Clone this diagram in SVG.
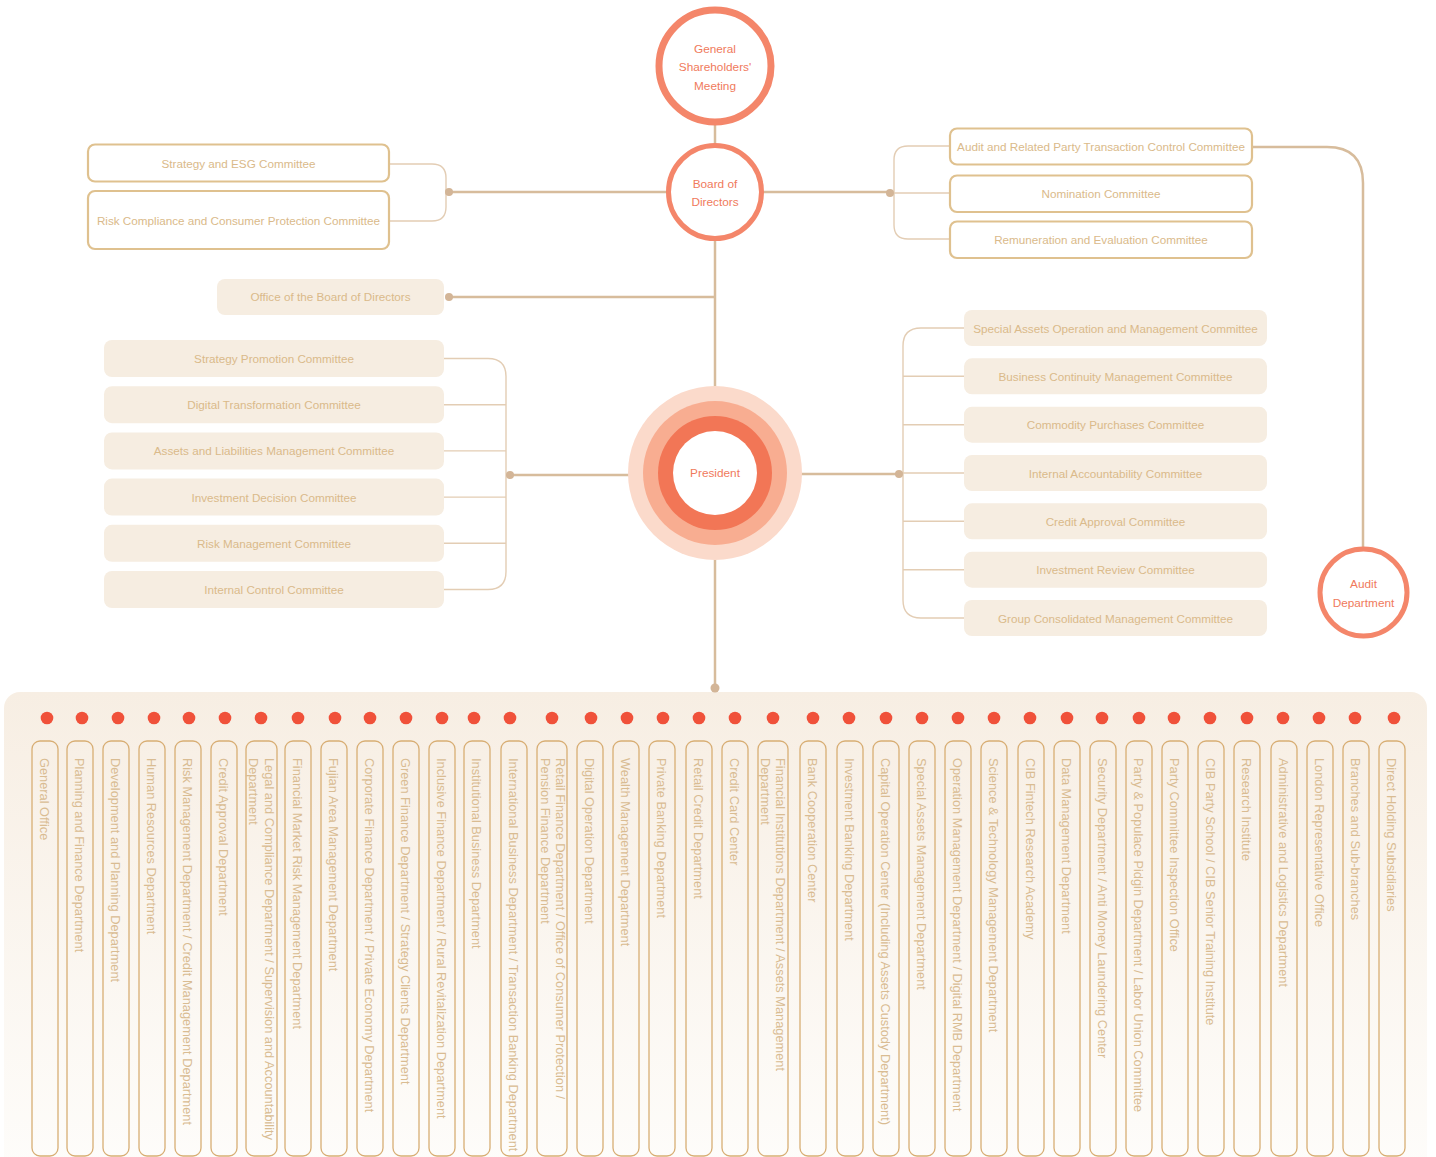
<svg xmlns="http://www.w3.org/2000/svg" width="1436" height="1157" viewBox="0 0 1436 1157">
<defs>
<linearGradient id="panelGrad" x1="0" y1="0" x2="0" y2="1">
<stop offset="0" stop-color="#F7EEE3"/>
<stop offset="1" stop-color="#FEFDFB"/>
</linearGradient>
<style>
.circ{fill:#fff;stroke:#F4866A}
.ctext{font-family:"Liberation Sans",Arial,sans-serif;font-size:11.8px;fill:#F07A5C;text-anchor:middle}
.obox{fill:#fff;stroke:#DFC18F;stroke-width:2.2}
.fbox{fill:#F6EDE1}
.btext{font-family:"Liberation Sans",Arial,sans-serif;font-size:11.7px;fill:#DABA8A;text-anchor:middle}
.main{fill:none;stroke:#D7BC9C;stroke-width:2.5}
.br{fill:none;stroke:#E3CDB4;stroke-width:1.4}
.jdot{fill:#D3B597}
.col{fill:none;stroke:#D8AE74;stroke-width:1.3}
.ctx{font-family:"Liberation Sans",Arial,sans-serif;font-size:12.8px;fill:#D9BC92}
.rdot{fill:#F0513A}
</style>
</defs>

<rect x="4" y="692" width="1423" height="490" rx="16" fill="url(#panelGrad)"/>

<g id="connectors">
<line class="main" x1="715" y1="124" x2="715" y2="145"/>
<line class="main" x1="715" y1="239" x2="715" y2="388"/>
<line class="main" x1="715" y1="558" x2="715" y2="688"/>
<line class="main" x1="449" y1="192" x2="668" y2="192"/>
<line class="main" x1="762" y1="192" x2="890" y2="192"/>
<line class="main" x1="449" y1="297" x2="715" y2="297"/>
<line class="main" x1="510" y1="475" x2="630" y2="475"/>
<line class="main" x1="800" y1="474" x2="899" y2="474"/>
<path class="main" d="M1252,147 H1327 Q1363,147 1363,183 V549" stroke-width="2"/>
<path class="br" d="M389,164 H432 Q446,164 446,178 V207 Q446,221 432,221 H389"/>
<path class="br" d="M950,146 H908 Q894,146 894,160 V225 Q894,239 908,239 H950"/>
<line class="br" x1="890" y1="193" x2="950" y2="193"/>
<path class="br" d="M444,358.5 H488 Q506,358.5 506,376.5 V571.5 Q506,589.5 488,589.5 H444"/>
<path class="br" d="M444,404.7 H506 M444,450.9 H506 M444,497.1 H506 M444,543.3 H506"/>
<path class="br" d="M964,328 H921 Q903,328 903,346 V600 Q903,618 921,618 H964"/>
<path class="br" d="M903,376.3 H964 M903,424.7 H964 M899,473 H964 M903,521.3 H964 M903,569.7 H964"/>
<circle class="jdot" cx="449" cy="192" r="4"/>
<circle class="jdot" cx="890" cy="193" r="4"/>
<circle class="jdot" cx="449" cy="297" r="4"/>
<circle class="jdot" cx="510" cy="475" r="4"/>
<circle class="jdot" cx="899" cy="474" r="4"/>
<circle class="jdot" cx="715" cy="688" r="4.5"/>
</g>

<g id="gsm">
<circle class="circ" cx="715" cy="66" r="56" stroke-width="7"/>
<text class="ctext" x="715" y="53">General</text>
<text class="ctext" x="715" y="71">Shareholders'</text>
<text class="ctext" x="715" y="90">Meeting</text>
</g>
<g id="board">
<circle class="circ" cx="715" cy="192" r="46.5" stroke-width="5"/>
<text class="ctext" x="715" y="188">Board of</text>
<text class="ctext" x="715" y="206">Directors</text>
</g>
<g id="president">
<circle cx="715" cy="473" r="87" fill="#FBDACB"/>
<circle cx="715" cy="473" r="72" fill="#F8AD91"/>
<circle cx="715" cy="473" r="57" fill="#F27656"/>
<circle cx="715" cy="473" r="42" fill="#fff"/>
<text class="ctext" x="715" y="477">President</text>
</g>
<g id="audit-dept">
<circle class="circ" cx="1363.5" cy="592.5" r="43.5" stroke-width="5"/>
<text class="ctext" x="1363.5" y="588">Audit</text>
<text class="ctext" x="1363.5" y="607">Department</text>
</g>

<g id="c-strategy-esg"><rect class="obox" x="88" y="144.5" width="301" height="37" rx="7"/><text class="btext" x="238.5" y="168">Strategy and ESG Committee</text></g>
<g id="c-risk-compliance"><rect class="obox" x="88" y="191" width="301" height="58" rx="7"/><text class="btext" x="238.5" y="225">Risk Compliance and Consumer Protection Committee</text></g>
<g id="office-board"><rect class="fbox" x="217" y="279" width="227" height="36" rx="8"/><text class="btext" x="330.5" y="301">Office of the Board of Directors</text></g>

<g id="c-audit-rpt"><rect class="obox" x="950" y="128.5" width="302" height="36" rx="7"/><text class="btext" x="1101" y="151">Audit and Related Party Transaction Control Committee</text></g>
<g id="c-nomination"><rect class="obox" x="950" y="175.5" width="302" height="36.5" rx="7"/><text class="btext" x="1101" y="198">Nomination Committee</text></g>
<g id="c-remuneration"><rect class="obox" x="950" y="221.5" width="302" height="36.5" rx="7"/><text class="btext" x="1101" y="244">Remuneration and Evaluation Committee</text></g>

<g id="c-strategy-promotion"><rect class="fbox" x="104" y="340" width="340" height="37" rx="8"/><text class="btext" x="274" y="363">Strategy Promotion Committee</text></g>
<g id="c-digital"><rect class="fbox" x="104" y="386.2" width="340" height="37" rx="8"/><text class="btext" x="274" y="409.2">Digital Transformation Committee</text></g>
<g id="c-alm"><rect class="fbox" x="104" y="432.4" width="340" height="37" rx="8"/><text class="btext" x="274" y="455.4">Assets and Liabilities Management Committee</text></g>
<g id="c-investment-decision"><rect class="fbox" x="104" y="478.6" width="340" height="37" rx="8"/><text class="btext" x="274" y="501.6">Investment Decision Committee</text></g>
<g id="c-risk-mgmt"><rect class="fbox" x="104" y="524.8" width="340" height="37" rx="8"/><text class="btext" x="274" y="547.8">Risk Management Committee</text></g>
<g id="c-internal-control"><rect class="fbox" x="104" y="571" width="340" height="37" rx="8"/><text class="btext" x="274" y="594">Internal Control Committee</text></g>

<g id="c-special-assets"><rect class="fbox" x="964" y="310" width="303" height="36" rx="8"/><text class="btext" x="1115.5" y="332.5">Special Assets Operation and Management Committee</text></g>
<g id="c-business-continuity"><rect class="fbox" x="964" y="358.3" width="303" height="36" rx="8"/><text class="btext" x="1115.5" y="380.8">Business Continuity Management Committee</text></g>
<g id="c-commodity"><rect class="fbox" x="964" y="406.7" width="303" height="36" rx="8"/><text class="btext" x="1115.5" y="429.2">Commodity Purchases Committee</text></g>
<g id="c-internal-accountability"><rect class="fbox" x="964" y="455" width="303" height="36" rx="8"/><text class="btext" x="1115.5" y="477.5">Internal Accountability Committee</text></g>
<g id="c-credit-approval"><rect class="fbox" x="964" y="503.3" width="303" height="36" rx="8"/><text class="btext" x="1115.5" y="525.8">Credit Approval Committee</text></g>
<g id="c-investment-review"><rect class="fbox" x="964" y="551.7" width="303" height="36" rx="8"/><text class="btext" x="1115.5" y="574.2">Investment Review Committee</text></g>
<g id="c-group-consolidated"><rect class="fbox" x="964" y="600" width="303" height="36" rx="8"/><text class="btext" x="1115.5" y="622.5">Group Consolidated Management Committee</text></g>

<g id="dept-01"><circle class="rdot" cx="47" cy="718" r="6.3"/><rect class="col" x="32" y="741" width="26" height="415" rx="8"/><text class="ctx" transform="translate(39.5,758) rotate(90)">General Office</text></g>
<g id="dept-02"><circle class="rdot" cx="82" cy="718" r="6.3"/><rect class="col" x="67" y="741" width="26" height="415" rx="8"/><text class="ctx" transform="translate(75,758) rotate(90)">Planning and Finance Department</text></g>
<g id="dept-03"><circle class="rdot" cx="118" cy="718" r="6.3"/><rect class="col" x="103" y="741" width="26" height="415" rx="8"/><text class="ctx" transform="translate(111,758) rotate(90)">Development and Planning Department</text></g>
<g id="dept-04"><circle class="rdot" cx="154" cy="718" r="6.3"/><rect class="col" x="139" y="741" width="26" height="415" rx="8"/><text class="ctx" transform="translate(147,758) rotate(90)">Human Resources Department</text></g>
<g id="dept-05"><circle class="rdot" cx="189" cy="718" r="6.3"/><rect class="col" x="175" y="741" width="26" height="415" rx="8"/><text class="ctx" transform="translate(183,758) rotate(90)">Risk Management Department / Credit Management Department</text></g>
<g id="dept-06"><circle class="rdot" cx="225" cy="718" r="6.3"/><rect class="col" x="211" y="741" width="26" height="415" rx="8"/><text class="ctx" transform="translate(219,758) rotate(90)">Credit Approval Department</text></g>
<g id="dept-07"><circle class="rdot" cx="261" cy="718" r="6.3"/><rect class="col" x="246" y="741" width="31" height="415" rx="8"/><text class="ctx" transform="translate(264.5,758) rotate(90)">Legal and Compliance Department / Supervision and Accountability<tspan x="0" dy="15.5">Department</tspan></text></g>
<g id="dept-08"><circle class="rdot" cx="298" cy="718" r="6.3"/><rect class="col" x="285" y="741" width="26" height="415" rx="8"/><text class="ctx" transform="translate(293,758) rotate(90)">Financial Market Risk Management Department</text></g>
<g id="dept-09"><circle class="rdot" cx="335" cy="718" r="6.3"/><rect class="col" x="321" y="741" width="26" height="415" rx="8"/><text class="ctx" transform="translate(329,758) rotate(90)">Fujian Area Management Department</text></g>
<g id="dept-10"><circle class="rdot" cx="370" cy="718" r="6.3"/><rect class="col" x="357" y="741" width="26" height="415" rx="8"/><text class="ctx" transform="translate(365,758) rotate(90)">Corporate Finance Department / Private Economy Department</text></g>
<g id="dept-11"><circle class="rdot" cx="406" cy="718" r="6.3"/><rect class="col" x="393" y="741" width="26" height="415" rx="8"/><text class="ctx" transform="translate(401,758) rotate(90)">Green Finance Department / Strategy Clients Department</text></g>
<g id="dept-12"><circle class="rdot" cx="442" cy="718" r="6.3"/><rect class="col" x="429" y="741" width="26" height="415" rx="8"/><text class="ctx" transform="translate(437,758) rotate(90)">Inclusive Finance Department / Rural Revitalization Department</text></g>
<g id="dept-13"><circle class="rdot" cx="474" cy="718" r="6.3"/><rect class="col" x="464" y="741" width="26" height="415" rx="8"/><text class="ctx" transform="translate(472,758) rotate(90)">Institutional Business Department</text></g>
<g id="dept-14"><circle class="rdot" cx="510" cy="718" r="6.3"/><rect class="col" x="501" y="741" width="26" height="415" rx="8"/><text class="ctx" transform="translate(509,758) rotate(90)">International Business Department / Transaction Banking Department</text></g>
<g id="dept-15"><circle class="rdot" cx="552" cy="718" r="6.3"/><rect class="col" x="537" y="741" width="30" height="415" rx="8"/><text class="ctx" transform="translate(556,758) rotate(90)">Retail Finance Department / Office of Consumer Protection /<tspan x="0" dy="15.5">Pension Finance Department</tspan></text></g>
<g id="dept-16"><circle class="rdot" cx="591" cy="718" r="6.3"/><rect class="col" x="577" y="741" width="26" height="415" rx="8"/><text class="ctx" transform="translate(585,758) rotate(90)">Digital Operation Department</text></g>
<g id="dept-17"><circle class="rdot" cx="627" cy="718" r="6.3"/><rect class="col" x="613" y="741" width="26" height="415" rx="8"/><text class="ctx" transform="translate(621,758) rotate(90)">Wealth Management Department</text></g>
<g id="dept-18"><circle class="rdot" cx="663" cy="718" r="6.3"/><rect class="col" x="649" y="741" width="26" height="415" rx="8"/><text class="ctx" transform="translate(657,758) rotate(90)">Private Banking Department</text></g>
<g id="dept-19"><circle class="rdot" cx="699" cy="718" r="6.3"/><rect class="col" x="686" y="741" width="26" height="415" rx="8"/><text class="ctx" transform="translate(694,758) rotate(90)">Retail Credit Department</text></g>
<g id="dept-20"><circle class="rdot" cx="735" cy="718" r="6.3"/><rect class="col" x="722" y="741" width="26" height="415" rx="8"/><text class="ctx" transform="translate(730,758) rotate(90)">Credit Card Center</text></g>
<g id="dept-21"><circle class="rdot" cx="773" cy="718" r="6.3"/><rect class="col" x="758" y="741" width="30" height="415" rx="8"/><text class="ctx" transform="translate(776,758) rotate(90)">Financial Institutions Department / Assets Management<tspan x="0" dy="15.5">Department</tspan></text></g>
<g id="dept-22"><circle class="rdot" cx="813" cy="718" r="6.3"/><rect class="col" x="800" y="741" width="26" height="415" rx="8"/><text class="ctx" transform="translate(808,758) rotate(90)">Bank Cooperation Center</text></g>
<g id="dept-23"><circle class="rdot" cx="849" cy="718" r="6.3"/><rect class="col" x="837" y="741" width="26" height="415" rx="8"/><text class="ctx" transform="translate(845,758) rotate(90)">Investment Banking Department</text></g>
<g id="dept-24"><circle class="rdot" cx="886" cy="718" r="6.3"/><rect class="col" x="873" y="741" width="26" height="415" rx="8"/><text class="ctx" transform="translate(881,758) rotate(90)">Capital Operation Center (Including Assets Custody Department)</text></g>
<g id="dept-25"><circle class="rdot" cx="922" cy="718" r="6.3"/><rect class="col" x="909" y="741" width="26" height="415" rx="8"/><text class="ctx" transform="translate(917,758) rotate(90)">Special Assets Management Department</text></g>
<g id="dept-26"><circle class="rdot" cx="958" cy="718" r="6.3"/><rect class="col" x="945" y="741" width="26" height="415" rx="8"/><text class="ctx" transform="translate(953,758) rotate(90)">Operation Management Department / Digital RMB Department</text></g>
<g id="dept-27"><circle class="rdot" cx="994" cy="718" r="6.3"/><rect class="col" x="981" y="741" width="26" height="415" rx="8"/><text class="ctx" transform="translate(989,758) rotate(90)">Science &amp; Technology Management Department</text></g>
<g id="dept-28"><circle class="rdot" cx="1030" cy="718" r="6.3"/><rect class="col" x="1018" y="741" width="26" height="415" rx="8"/><text class="ctx" transform="translate(1026,758) rotate(90)">CIB Fintech Research Academy</text></g>
<g id="dept-29"><circle class="rdot" cx="1067" cy="718" r="6.3"/><rect class="col" x="1054" y="741" width="26" height="415" rx="8"/><text class="ctx" transform="translate(1062,758) rotate(90)">Data Management Department</text></g>
<g id="dept-30"><circle class="rdot" cx="1102" cy="718" r="6.3"/><rect class="col" x="1090" y="741" width="26" height="415" rx="8"/><text class="ctx" transform="translate(1098,758) rotate(90)">Security Department / Anti Money Laundering Center</text></g>
<g id="dept-31"><circle class="rdot" cx="1139" cy="718" r="6.3"/><rect class="col" x="1126" y="741" width="26" height="415" rx="8"/><text class="ctx" transform="translate(1134,758) rotate(90)">Party &amp; Populace Pidgin Department / Labor Union Committee</text></g>
<g id="dept-32"><circle class="rdot" cx="1174" cy="718" r="6.3"/><rect class="col" x="1162" y="741" width="26" height="415" rx="8"/><text class="ctx" transform="translate(1170,758) rotate(90)">Party Committee Inspection Office</text></g>
<g id="dept-33"><circle class="rdot" cx="1210" cy="718" r="6.3"/><rect class="col" x="1198" y="741" width="26" height="415" rx="8"/><text class="ctx" transform="translate(1206,758) rotate(90)">CIB Party School / CIB Senior Training Institute</text></g>
<g id="dept-34"><circle class="rdot" cx="1247" cy="718" r="6.3"/><rect class="col" x="1234" y="741" width="26" height="415" rx="8"/><text class="ctx" transform="translate(1242,758) rotate(90)">Research Institute</text></g>
<g id="dept-35"><circle class="rdot" cx="1283" cy="718" r="6.3"/><rect class="col" x="1271" y="741" width="26" height="415" rx="8"/><text class="ctx" transform="translate(1279,758) rotate(90)">Administrative and Logistics Department</text></g>
<g id="dept-36"><circle class="rdot" cx="1319" cy="718" r="6.3"/><rect class="col" x="1307" y="741" width="26" height="415" rx="8"/><text class="ctx" transform="translate(1315,758) rotate(90)">London Representative Office</text></g>
<g id="dept-37"><circle class="rdot" cx="1355" cy="718" r="6.3"/><rect class="col" x="1343" y="741" width="26" height="415" rx="8"/><text class="ctx" transform="translate(1351,758) rotate(90)">Branches and Sub-branches</text></g>
<g id="dept-38"><circle class="rdot" cx="1394" cy="718" r="6.3"/><rect class="col" x="1379" y="741" width="26" height="415" rx="8"/><text class="ctx" transform="translate(1387,758) rotate(90)">Direct Holding Subsidiaries</text></g>
</svg>
